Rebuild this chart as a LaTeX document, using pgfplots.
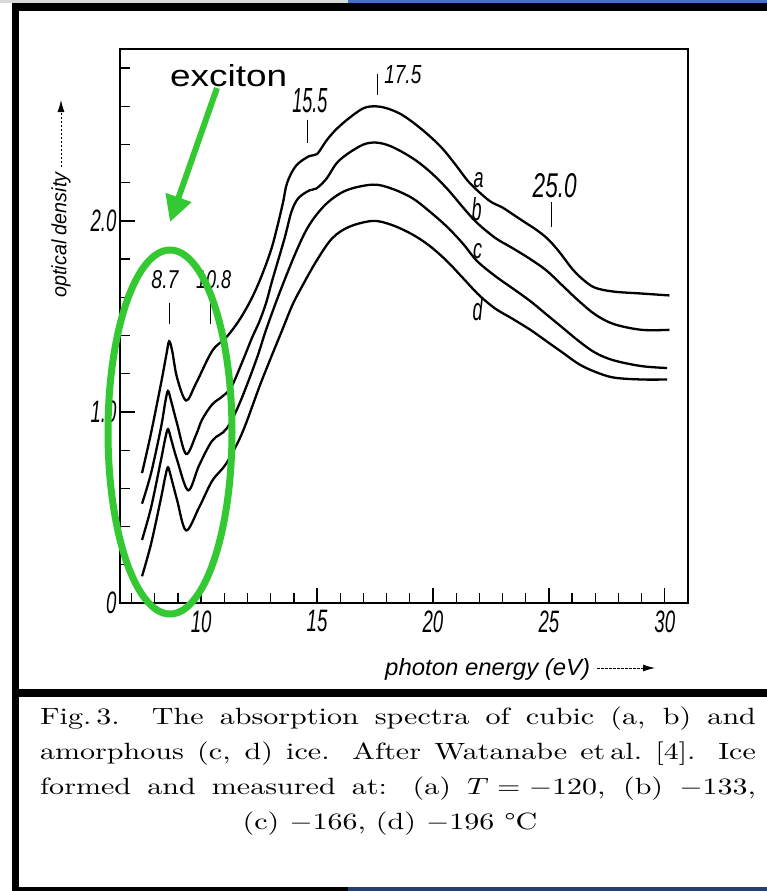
\documentclass[border=0pt]{standalone}
\usepackage{pgfplots}
\pgfplotsset{compat=1.18}
\usepackage{pgfplotstable}
\usepackage{graphicx}
\usepackage{fontspec}
\usetikzlibrary{arrows.meta}

\newfontfamily\plotfont{Liberation Sans}
\newfontfamily\tickfont[FakeStretch=0.6]{Liberation Sans}
\definecolor{markgreen}{RGB}{52,200,50}
\definecolor{slideblue}{RGB}{68,114,196}

% optical density of the four ice samples, photon energy in eV
\pgfplotstableread{
x a
7.45 0.68
7.84 0.89
8.27 1.15
8.50 1.30
8.62 1.37
8.75 1.32
8.96 1.18
9.35 1.06
9.78 1.15
10.48 1.32
11.08 1.39
11.64 1.48
12.16 1.59
12.6 1.71
13.07 1.87
13.5 2.08
13.71 2.20
14.1 2.29
14.67 2.34
15.0 2.35
15.4 2.42
15.83 2.48
16.4 2.54
17.0 2.59
17.5 2.60
18.0 2.59
18.6 2.56
19.2 2.51
19.8 2.45
20.4 2.38
21.0 2.29
21.5 2.21
22.0 2.15
22.5 2.10
23.0 2.07
23.5 2.03
24.0 1.99
24.5 1.95
25.0 1.90
25.5 1.83
26.0 1.75
26.5 1.69
27.0 1.65
27.8 1.63
29.0 1.62
30.2 1.61
}\curveA

\pgfplotstableread{
x b
7.45 0.52
7.84 0.68
8.27 0.92
8.45 1.05
8.57 1.11
8.70 1.06
8.96 0.94
9.35 0.78
9.78 0.88
10.04 0.96
10.48 1.04
10.9 1.08
11.3 1.13
11.8 1.27
12.2 1.39
12.5 1.47
12.8 1.57
13.07 1.69
13.6 1.91
13.9 2.05
14.2 2.12
14.67 2.16
14.97 2.17
15.4 2.22
15.83 2.30
16.3 2.35
17.0 2.40
17.56 2.41
18.2 2.39
19.1 2.33
19.85 2.26
20.6 2.17
21.3 2.07
21.9 1.99
22.7 1.91
23.4 1.86
24.2 1.80
24.9 1.74
25.6 1.66
26.3 1.58
27.0 1.51
27.8 1.46
29.0 1.43
30.2 1.43
}\curveB

\pgfplotstableread{
x c
7.45 0.33
7.84 0.50
8.27 0.75
8.45 0.86
8.57 0.91
8.70 0.86
8.96 0.75
9.44 0.59
9.91 0.72
10.48 0.85
11.08 0.91
11.64 1.04
12.37 1.27
12.8 1.43
13.37 1.62
14.1 1.84
14.67 1.98
15.4 2.09
16.26 2.16
17.4 2.19
18.2 2.17
19.1 2.12
19.85 2.05
20.6 1.97
21.3 1.88
21.9 1.79
22.7 1.71
23.4 1.65
24.2 1.58
24.9 1.51
25.6 1.44
26.3 1.37
27.0 1.31
27.8 1.27
29.0 1.24
30.1 1.23
}\curveC

\pgfplotstableread{
x d
7.45 0.14
7.84 0.31
8.27 0.55
8.45 0.66
8.57 0.71
8.70 0.66
8.96 0.54
9.35 0.38
9.91 0.50
10.48 0.64
11.08 0.73
11.77 0.89
12.6 1.16
13.5 1.43
13.9 1.55
14.23 1.63
14.97 1.79
15.66 1.91
16.4 1.97
17.4 2.00
18.2 1.98
19.1 1.93
19.85 1.87
20.6 1.79
21.3 1.70
22.0 1.61
22.7 1.54
23.4 1.49
24.2 1.43
24.9 1.37
25.6 1.31
26.3 1.25
27.0 1.21
27.8 1.18
29.0 1.17
30.1 1.17
}\curveD

\newcommand{\lbl}[3]{\resizebox{#1bp}{#2bp}{\plotfont\itshape #3}}
% caption lines: 10pt design size, enlarged
\newcommand{\capline}[1]{\scalebox{3.008}[2.35]{\fontsize{10bp}{12bp}\selectfont\makebox[238bp][s]{#1}}}
\newcommand{\caplast}[1]{\scalebox{3.008}[2.35]{\fontsize{10bp}{12bp}\selectfont #1}}

\begin{document}
\begin{tikzpicture}
\begin{axis}[
  at={(120bp,-603bp)}, anchor=south west,
  scale only axis, width=568bp, height=554bp,
  xmin=6.5, xmax=31, ymin=0, ymax=2.9,
  xtick={10,15,20,25,30}, xticklabels={10,15,20,25,30},
  minor xtick={7,8,9,11,12,13,14,16,17,18,19,21,22,23,24,26,27,28,29},
  ytick={0,1,2}, yticklabels={0,1.0,2.0},
  minor ytick={0.2,0.4,0.6,0.8,1.2,1.4,1.6,1.8,2.2,2.4,2.6,2.8},
  tick align=inside, xtick pos=lower, ytick pos=left,
  major tick length=15bp, minor tick length=10bp,
  every tick/.style={black, line width=1.3bp},
  axis line style={line width=1.8bp},
  xticklabel style={font=\tickfont\itshape\fontsize{31bp}{31bp}\selectfont, yshift=-4bp},
  yticklabel style={font=\tickfont\itshape\fontsize{31bp}{31bp}\selectfont},
  clip=false,
]
\addplot[black, line width=2.3bp, smooth, tension=0.55] table[x=x, y=a] {\curveA};
\addplot[black, line width=2.3bp, smooth, tension=0.55] table[x=x, y=b] {\curveB};
\addplot[black, line width=2.3bp, smooth, tension=0.55] table[x=x, y=c] {\curveC};
\addplot[black, line width=2.3bp, smooth, tension=0.55] table[x=x, y=d] {\curveD};

% feature markers and their energies
\draw[line width=1.3bp] (axis cs:8.62,1.46) -- (axis cs:8.62,1.57);
\draw[line width=1.3bp] (axis cs:10.39,1.46) -- (axis cs:10.39,1.57);
\draw[line width=1.3bp] (axis cs:14.58,2.41) -- (axis cs:14.58,2.53);
\draw[line width=1.3bp] (axis cs:17.6,2.66) -- (axis cs:17.6,2.77);
\draw[line width=1.3bp] (axis cs:25.12,1.97) -- (axis cs:25.12,2.10);
\node[anchor=south, inner sep=0] at (axis cs:8.44,1.644) {\lbl{27}{18}{8.7}};
\node[anchor=south, inner sep=0] at (axis cs:10.54,1.644) {\lbl{35}{18}{10.8}};
\node[anchor=south, inner sep=0] at (axis cs:14.69,2.564) {\lbl{35}{24}{15.5}};
\node[anchor=south, inner sep=0] at (axis cs:18.70,2.715) {\lbl{37}{18}{17.5}};
\node[anchor=south, inner sep=0] at (axis cs:25.25,2.12) {\lbl{44}{24}{25.0}};

% curve names
\node[anchor=south, inner sep=0] at (axis cs:21.97,2.17) {\lbl{10}{15}{a}};
\node[anchor=south, inner sep=0] at (axis cs:21.88,2.00) {\lbl{10}{23}{b}};
\node[anchor=south, inner sep=0] at (axis cs:21.92,1.80) {\lbl{9}{15}{c}};
\node[anchor=south, inner sep=0] at (axis cs:21.92,1.478) {\lbl{10}{23}{d}};
\end{axis}

\begin{scope}[x=1bp, y=-1bp]
% page frame
\fill[black!15] (0,0) rectangle (348,3);
\fill[slideblue] (348,0) rectangle (767,3);
\fill[black] (12,3) rectangle (767,11);
\fill[black] (12,3) rectangle (19,891);
\fill[black] (12,689) rectangle (767,697);
\fill[black] (12,887) rectangle (348,891);
\fill[slideblue!55!black] (348,887) rectangle (767,891);

% axis titles
\node[rotate=90, inner sep=0] at (61,235) {\lbl{125}{15}{optical density}};
\draw[line width=0.9bp, dash pattern=on 2.5bp off 1.5bp, -{Latex[length=12bp,width=7bp]}] (61,167) -- (61,100);
\node[anchor=base west, inner sep=0] at (385,675) {\lbl{205}{17}{photon energy (eV)}};
\draw[line width=0.9bp, dash pattern=on 2.5bp off 1.5bp, -{Latex[length=12bp,width=7bp]}] (597,668) -- (655,668);

% exciton highlight
\draw[markgreen, line width=7bp] (170,432) ellipse [x radius=62bp, y radius=182bp];
\draw[markgreen, line width=6bp, -{Triangle[length=26bp, width=26bp]}] (217,88) -- (170,222);
\node[anchor=base west, inner sep=0] at (170,86) {\resizebox{117bp}{22bp}{\plotfont exciton}};

% caption
\begin{scope}[every node/.style={inner sep=0}]
\node[anchor=base] at (398,724) {\capline{Fig.\,3.\ \ The absorption spectra of cubic (a, b) and}};
\node[anchor=base] at (398,759) {\capline{amorphous (c, d) ice. After Watanabe et\,al.\ [4]. Ice}};
\node[anchor=base] at (398,794) {\capline{formed and measured at: (a) \mbox{$T=-120$}, (b) \mbox{$-133$},}};
\node[anchor=base] at (390,829) {\caplast{(c) $-166$, (d) $-196$ \textdegree C}};
\end{scope}

\pgfresetboundingbox
\useasboundingbox (0,0) rectangle (767,891);
\end{scope}
\end{tikzpicture}
\end{document}
